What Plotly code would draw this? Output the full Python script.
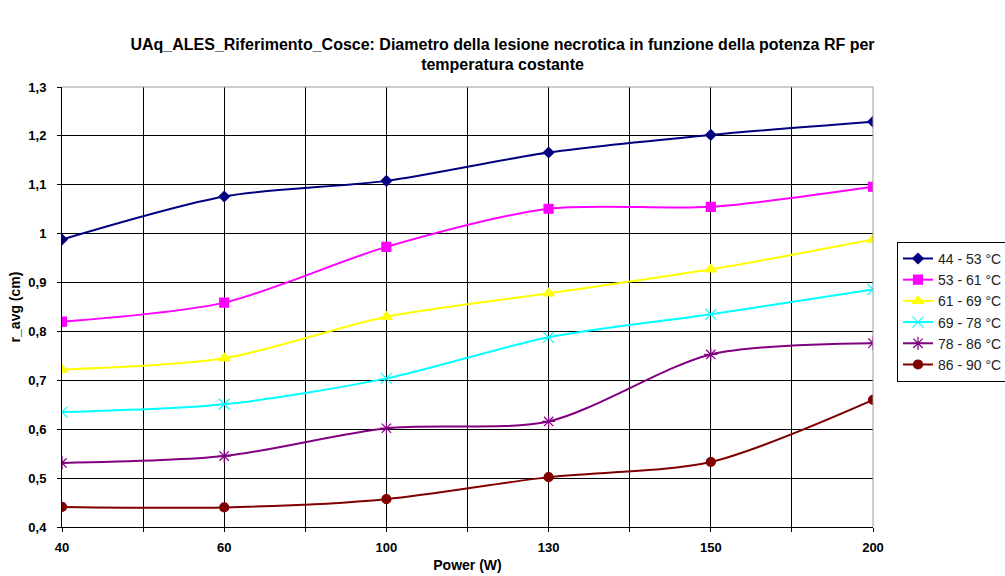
import plotly.graph_objects as go

# Power levels (W) shown as evenly spaced categories
power_labels = ["40", "60", "100", "130", "150", "200"]

# Mean lesion radius r_avg (cm) for each temperature band
r_44_53 = [0.988, 1.076, 1.108, 1.166, 1.202, 1.229]
r_53_61 = [0.820, 0.859, 0.973, 1.051, 1.055, 1.096]
r_61_69 = [0.722, 0.745, 0.830, 0.878, 0.927, 0.988]
r_69_78 = [0.635, 0.651, 0.704, 0.788, 0.835, 0.886]
r_78_86 = [0.531, 0.545, 0.602, 0.616, 0.753, 0.776]
r_86_90 = [0.441, 0.440, 0.457, 0.502, 0.533, 0.660]

series_names = ["44 - 53 °C", "53 - 61 °C", "61 - 69 °C",
                "69 - 78 °C", "78 - 86 °C", "86 - 90 °C"]
y_ticks = [0.4, 0.5, 0.6, 0.7, 0.8, 0.9, 1.0, 1.1, 1.2, 1.3]

series_values = [r_44_53, r_53_61, r_61_69, r_69_78, r_78_86, r_86_90]
colors = ["#000080", "#FF00FF", "#FFFF00", "#00FFFF", "#800080", "#800000"]
symbols = ["diamond", "square", "triangle-up", "x-thin-open", "asterisk-open", "circle"]
msizes = [8, 9, 10, 11, 11, 9]

x_pos = list(range(len(power_labels)))

fig = go.Figure()
for name, vals, col, sym, ms in zip(series_names, series_values, colors, symbols, msizes):
    fig.add_trace(go.Scatter(
        x=x_pos, y=vals, name=name,
        mode="lines+markers",
        line=dict(color=col, width=2, shape="spline", smoothing=0.8),
        marker=dict(symbol=sym, size=ms, color=col,
                    line=dict(color=col, width=1.2)),
    ))

# gridlines every half category, labels only on categories
grid_vals = [i * 0.5 for i in range(2 * len(power_labels) - 1)]
grid_text = [power_labels[int(v)] if v == int(v) else "" for v in grid_vals]

fam = "Liberation Sans, Arial, sans-serif"
tick_font = dict(family=fam, size=13, color="black", weight="bold")
axis_title_font = dict(family=fam, size=14, color="black", weight="bold")

fig.update_layout(
    width=1005, height=576,
    margin=dict(l=62, r=132, t=87, b=49, autoexpand=False),
    paper_bgcolor="white", plot_bgcolor="white",
    separators=",.",
    title=dict(
        text="UAq_ALES_Riferimento_Cosce: Diametro della lesione necrotica in funzione della potenza RF per<br>temperatura costante",
        x=0.5, xanchor="center", y=0.914, yanchor="top",
        font=dict(family=fam, size=16, color="black", weight="bold"),
    ),
    showlegend=True,
    legend=dict(
        x=1.0296, y=0.648, xanchor="left", yanchor="top",
        bordercolor="black", borderwidth=1, bgcolor="white",
        font=dict(family=fam, size=14, color="#222"),
        tracegroupgap=0,
    ),
    font=dict(family=fam, color="black"),
)

fig.update_xaxes(
    range=[0, len(power_labels) - 1],
    tickmode="array", tickvals=grid_vals, ticktext=grid_text,
    showgrid=True, gridcolor="black", gridwidth=1,
    showline=True, linecolor="black", linewidth=1,
    mirror=False, zeroline=False,
    ticks="outside", ticklen=4, tickcolor="black",
    ticklabelstandoff=4,
    tickfont=tick_font,
    title=dict(text="Power (W)", font=axis_title_font, standoff=6),
)
fig.update_yaxes(
    range=[0.4, 1.3],
    tickmode="array", tickvals=y_ticks,
    showgrid=True, gridcolor="black", gridwidth=1,
    showline=True, linecolor="black", linewidth=1,
    zeroline=False,
    ticks="outside", ticklen=4, tickcolor="black",
    ticklabelstandoff=8,
    tickfont=tick_font,
    title=dict(text="r_avg (cm)", font=axis_title_font, standoff=4),
)

# light frame on the top and right sides of the plot area
fig.add_shape(type="line", xref="paper", yref="paper", x0=0, x1=1, y0=1, y1=1,
              line=dict(color="#9a9a9a", width=1))
fig.add_shape(type="line", xref="paper", yref="paper", x0=1, x1=1, y0=0, y1=1,
              line=dict(color="#9a9a9a", width=1))

fig.write_html("out.html")
